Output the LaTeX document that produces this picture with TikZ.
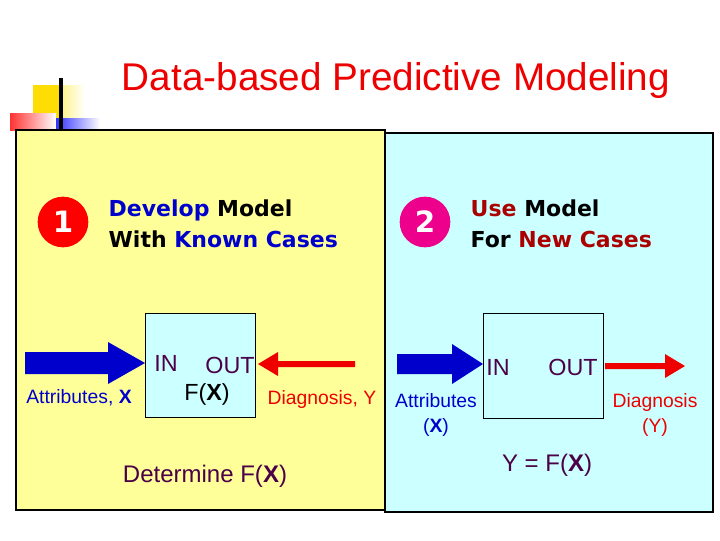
\documentclass[tikz,border=0pt]{standalone}
\usepackage{fontspec}
\setmainfont{Liberation Sans}
\newfontfamily\verd{DejaVu Sans}
\definecolor{pyel}{HTML}{FFFF99}
\definecolor{pcyan}{HTML}{CCFFFF}
\definecolor{dblue}{HTML}{0000CC}
\definecolor{dred}{HTML}{AA0000}
\definecolor{purp}{HTML}{4B0047}
\definecolor{tred}{HTML}{EE0000}
\tikzset{
  panel/.style={draw=black, line width=1pt},
  fbox/.style={draw=black, fill=pcyan, line width=0.6pt},
  head/.style={anchor=west, font=\verd\bfseries\fontsize{16.5}{19}\selectfont, align=left},
  lbl/.style={font=\fontsize{14.5}{16}\selectfont},
  io/.style={font=\fontsize{17.5}{19}\selectfont, text=purp},
  num/.style={circle, minimum size=38pt, inner sep=0pt, text=white, font=\verd\bfseries\fontsize{22}{24}\selectfont},
  bluearr/.style={draw=none, fill=dblue},
  redarr/.style={draw=none, fill=tred}
}
\begin{document}
\begin{tikzpicture}[x=0.75pt,y=-0.75pt]
\useasboundingbox (0,0) rectangle (720,540);
\fill[white] (0,0) rectangle (720,540);
% decoration
\shade[left color=yellow!80!orange, right color=white] (33,85) rectangle (85,130);
\fill[yellow!80!orange] (33,85) rectangle (62,130);
\shade[left color=red!80, right color=white] (10,113) rectangle (56,130);
\shade[left color=blue!80, right color=white] (56,118) rectangle (100,130);
\draw[line width=2.5pt] (61,78) -- (61,130);
% title
\node[text=tred, font=\fontsize{29}{33}\selectfont] (title) at (396,80) {Data-based Predictive Modeling};
% panels
\draw[panel, fill=pyel] (16,130) rectangle (385,510);
\draw[panel, fill=pcyan] (385,133) rectangle (713,512);
% numbers
\node[num, fill=red] (n1) at (63,222) {1};
\node[num, fill=magenta] (n2) at (425,222) {2};
\node[head] (h1) at (104,224) {\textcolor{dblue}{Develop} Model\\[4pt]With \textcolor{dblue}{Known Cases}};
\node[head] (h2) at (466,224) {\textcolor{dred}{Use} Model\\[4pt]For \textcolor{dred}{New Cases}};
% boxes
\draw[fbox] (145,313) rectangle (255,417);
\draw[fbox] (483,313) rectangle (603,418);
\node[io] (in1) at (166,363) {IN};
\node[io] (out1) at (230,365) {OUT};
\node[font=\fontsize{17.5}{19}\selectfont, text=black] (f1) at (207,394) {F(\textbf{X})};
\node[io] (in2) at (498,367) {IN};
\node[io] (out2) at (573,367) {OUT};
% arrows
\fill[bluearr] (25,352) -- (108,352) -- (108,342) -- (145,363) -- (108,384) -- (108,374) -- (25,374) -- cycle;
\fill[redarr] (355,361) -- (278,361) -- (278,352) -- (258,364) -- (278,376) -- (278,367) -- (355,367) -- cycle;
\fill[bluearr] (397,354) -- (452,354) -- (452,344) -- (483,364) -- (452,384) -- (452,374) -- (397,374) -- cycle;
\fill[redarr] (605,363) -- (665,363) -- (665,354) -- (685,366) -- (665,378) -- (665,369) -- (605,369) -- cycle;
% labels
\node[lbl, text=dblue] (a1) at (79,398) {Attributes, \textbf{X}};
\node[lbl, text=tred] (d1) at (322,399) {Diagnosis, Y};
\node[lbl, text=dblue, align=center] (a2) at (436,415) {Attributes\\[3pt](\textbf{X})};
\node[lbl, text=tred, align=center] (d2) at (655,415) {Diagnosis\\[3pt](Y)};
\node[font=\fontsize{18}{20}\selectfont, text=purp] (det) at (205,476) {Determine F(\textbf{X})};
\node[font=\fontsize{18}{20}\selectfont, text=purp] (yf) at (547,465) {Y = F(\textbf{X})};
\end{tikzpicture}
\end{document}
